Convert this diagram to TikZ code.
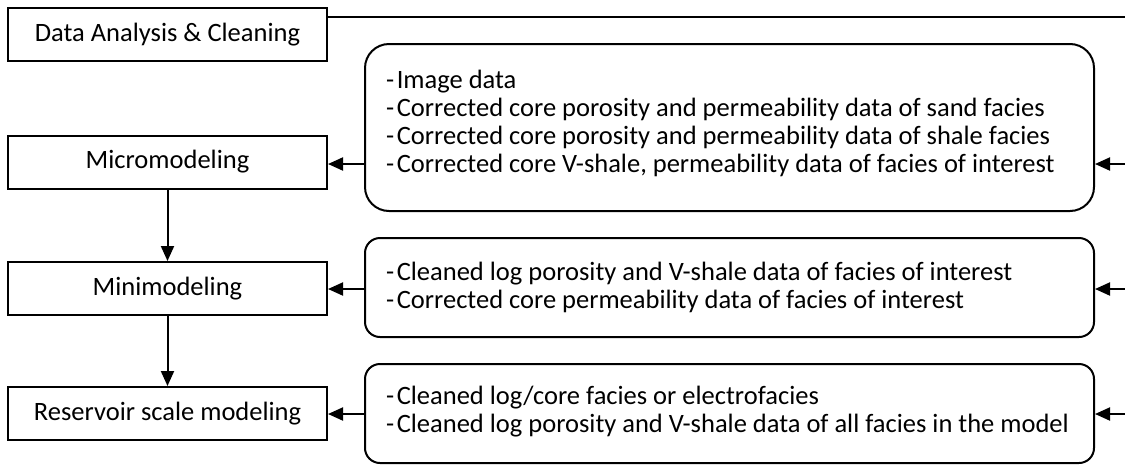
\documentclass[tikz,border=0pt]{standalone}
\usepackage{fontspec}
\setmainfont{Carlito}
\usetikzlibrary{arrows.meta}
\newcommand{\itm}{-\kern2.5pt}
\begin{document}
\begin{tikzpicture}[x=1pt,y=1pt,
  every node/.style={font=\fontsize{26.5}{28}\selectfont},
  stage/.style={draw,line width=2pt,minimum width=319pt,minimum height=53pt,inner sep=0pt},
  infobox/.style={draw,line width=2pt,inner sep=0pt,minimum width=729pt},
  infotext/.style={anchor=west,align=left,inner sep=0pt},
  arr/.style={line width=2pt,-{Triangle[length=15pt,width=13pt]}},
  plain/.style={line width=2pt}]
\useasboundingbox (0,0) rectangle (1125,-464);
\node[stage] (data) at (167.5,-34.5) {Data Analysis \& Cleaning};
\node[stage] (micro) at (167.5,-162) {Micromodeling};
\node[stage] (mini) at (167.5,-288.5) {Minimodeling};
\node[stage] (res) at (167.5,-413.5) {Reservoir scale modeling};
\node[infobox,rounded corners=24pt,minimum height=167pt] (b1) at (729.5,-127.5) {};
\node[infobox,rounded corners=15pt,minimum height=99pt] (b2) at (729.5,-287.5) {};
\node[infobox,rounded corners=15pt,minimum height=99pt] (b3) at (729.5,-413.5) {};
\node[infotext] (t1) at (386,-123) {\itm Image data\\\itm Corrected core porosity and permeability data of sand facies\\\itm Corrected core porosity and permeability data of shale facies\\\itm Corrected core V-shale, permeability data of facies of interest};
\node[infotext] (t2) at (386,-287) {\itm Cleaned log porosity and V-shale data of facies of interest\\\itm Corrected core permeability data of facies of interest};
\node[infotext] (t3) at (386,-412) {\itm Cleaned log/core facies or electrofacies\\\itm Cleaned log porosity and V-shale data of all facies in the model};
\coordinate (top) at (1125,-17);
\coordinate (r1) at (1125,-164);
\coordinate (r2) at (1125,-289);
\coordinate (r3) at (1125,-414);
\draw[plain] (top -| data.east) -- (top);
\draw[arr] (r1) -- (r1 -| b1.east);
\draw[arr] (r2) -- (r2 -| b2.east);
\draw[arr] (r3) -- (r3 -| b3.east);
\draw[arr] (r1 -| b1.west) -- (r1 -| micro.east);
\draw[arr] (r2 -| b2.west) -- (r2 -| mini.east);
\draw[arr] (r3 -| b3.west) -- (r3 -| res.east);
\draw[arr] (micro.south) -- (mini.north);
\draw[arr] (mini.south) -- (res.north);
\end{tikzpicture}
\end{document}
